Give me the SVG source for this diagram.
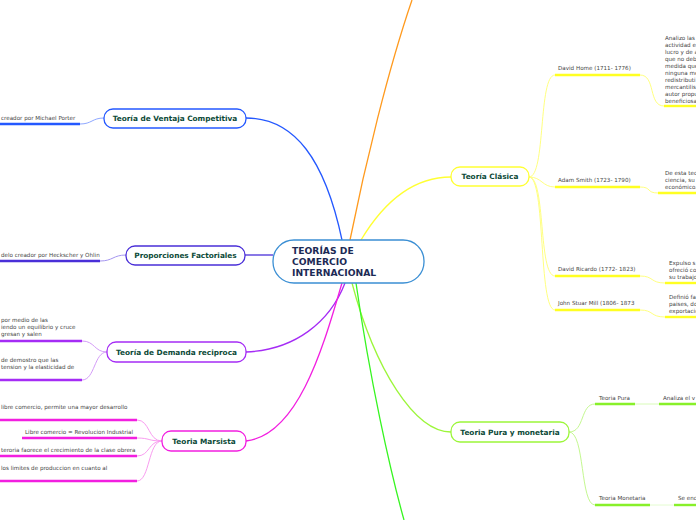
<svg xmlns="http://www.w3.org/2000/svg" width="696" height="520" viewBox="0 0 696 520">
<style>
.nt{font-family:"DejaVu Sans",Verdana,sans-serif;font-weight:bold;font-size:7.35px;fill:#0c4a38}
.ct{font-family:"DejaVu Sans",Verdana,sans-serif;font-weight:bold;font-size:9.2px;fill:#1c2a55}
.lt{font-family:"DejaVu Sans",Verdana,sans-serif;font-size:5.6px;fill:#444}
.c{fill:none;stroke-width:1.3}
.u{fill:none;stroke-width:2.4}
.s{fill:none;stroke-width:1}
.box{fill:#fff;stroke-width:1.3}
</style>
<rect width="696" height="520" fill="#fff"/>
<g id="connectors">
  <path class="c" stroke="#2458ff" d="M246,118 C295,118 325,160 342,240"/>
  <path class="c" stroke="#4a2fd8" d="M245,255 L273,255"/>
  <path class="c" stroke="#a52cf5" d="M246,352 C295,350 330,322 345,283"/>
  <path class="c" stroke="#f21fe0" d="M246,441 C300,435 325,340 342,283"/>
  <path class="c" stroke="#ff9a1e" d="M350,240 C365,165 388,70 412,0"/>
  <path class="c" stroke="#ffff33" d="M361,240 C385,200 415,177 451,177"/>
  <path class="c" stroke="#9cf63a" d="M352,283 C375,370 415,432 451,432"/>
  <path class="c" stroke="#36f520" d="M356,283 C370,380 390,470 404,520"/>
  <path class="s" stroke="#8fa8ff" d="M104,118 C92,118 92,124 80,124"/>
  <path class="u" stroke="#2458ff" d="M0,124 L80,124"/>
  <path class="s" stroke="#a596f0" d="M126,255 C113,255 113,261 100,261"/>
  <path class="u" stroke="#4a2fd8" d="M0,261 L100,261"/>
  <path class="s" stroke="#d49cf8" d="M107,352 C94,352 95,341 82,341"/>
  <path class="s" stroke="#d49cf8" d="M107,352 C94,352 95,380 82,380"/>
  <path class="u" stroke="#a52cf5" d="M0,341 L82,341"/>
  <path class="u" stroke="#a52cf5" d="M0,380 L82,380"/>
  <path class="s" stroke="#f99cf0" d="M162,441 C148,441 150,420 137,420"/>
  <path class="s" stroke="#f99cf0" d="M162,441 C148,441 150,438 137,438"/>
  <path class="s" stroke="#f99cf0" d="M162,441 C148,441 150,456 137,456"/>
  <path class="s" stroke="#f99cf0" d="M162,441 C148,441 150,481 137,481"/>
  <path class="u" stroke="#f21fe0" d="M0,420 L137,420"/>
  <path class="u" stroke="#f21fe0" d="M22,438 L137,438"/>
  <path class="u" stroke="#f21fe0" d="M0,456 L137,456"/>
  <path class="u" stroke="#f21fe0" d="M0,481 L137,481"/>
  <path class="s" stroke="#ffff80" d="M529,177 C546,177 538,75 555,75"/>
  <path class="s" stroke="#ffff80" d="M529,177 C542,177 542,187 555,187"/>
  <path class="s" stroke="#ffff80" d="M529,177 C546,177 538,276 555,276"/>
  <path class="s" stroke="#ffff80" d="M529,177 C546,177 538,310 555,310"/>
  <path class="u" stroke="#ffff22" d="M555,75 L640,75"/>
  <path class="u" stroke="#ffff22" d="M555,187 L640,187"/>
  <path class="u" stroke="#ffff22" d="M555,276 L640,276"/>
  <path class="u" stroke="#ffff22" d="M555,310 L640,310"/>
  <path class="s" stroke="#ffff80" d="M640,75 C656,75 648,106 664,106"/>
  <path class="s" stroke="#ffff80" d="M640,187 C652,187 646,193 658,193"/>
  <path class="s" stroke="#ffff80" d="M640,276 C654,276 650,283 665,283"/>
  <path class="s" stroke="#ffff80" d="M640,310 C654,310 650,317 665,317"/>
  <path class="u" stroke="#ffff22" d="M664,106 L696,106"/>
  <path class="u" stroke="#ffff22" d="M658,193 L696,193"/>
  <path class="u" stroke="#ffff22" d="M665,283 L696,283"/>
  <path class="u" stroke="#ffff22" d="M665,317 L696,317"/>
  <path class="s" stroke="#c4f890" d="M569,432 C585,432 580,404 595,404"/>
  <path class="s" stroke="#c4f890" d="M569,432 C585,432 580,505 595,505"/>
  <path class="u" stroke="#88f02a" d="M595,404 L635,404"/>
  <path class="s" stroke="#d8fbb8" stroke-width="1.6" d="M635,404 L659,404"/>
  <path class="u" stroke="#88f02a" d="M659,404 L696,404"/>
  <path class="u" stroke="#88f02a" d="M595,505 L650,505"/>
  <path class="s" stroke="#e4fcd0" stroke-width="2" d="M650,505 L674,505"/>
  <path class="u" stroke="#88f02a" d="M674,505 L696,505"/>
</g>
<g id="center">
  <rect class="box" x="273" y="240" width="151" height="43" rx="21" stroke="#3b8fd4"/>
  <text class="ct" x="292" y="254">TEORÍAS DE</text>
  <text class="ct" x="292" y="265">COMERCIO</text>
  <text class="ct" x="292" y="276">INTERNACIONAL</text>
</g>
<g id="ventaja">
  <rect class="box" x="104" y="109" width="142" height="19" rx="9" stroke="#2458ff"/>
  <text class="nt" x="175" y="121" text-anchor="middle">Teoría de Ventaja Competitiva</text>
  <text class="lt" x="1" y="120">creador por Michael Porter</text>
</g>
<g id="proporciones">
  <rect class="box" x="126" y="246" width="119" height="19" rx="9" stroke="#4a2fd8"/>
  <text class="nt" x="185.5" y="258" text-anchor="middle">Proporciones Factoriales</text>
  <text class="lt" x="1" y="257">delo creador por Heckscher y Ohlin</text>
</g>
<g id="demanda">
  <rect class="box" x="107" y="342" width="139" height="20" rx="9" stroke="#a52cf5"/>
  <text class="nt" x="176.5" y="355" text-anchor="middle">Teoría de Demanda reciproca</text>
  <text class="lt" x="1" y="322">por medio de las</text>
  <text class="lt" x="1" y="329">iendo un equilibrio y cruce</text>
  <text class="lt" x="1" y="336">gresan y salen</text>
  <text class="lt" x="1" y="362">de demostro que las</text>
  <text class="lt" x="1" y="369">tension y la elasticidad de</text>
</g>
<g id="marsista">
  <rect class="box" x="162" y="431" width="84" height="20" rx="9" stroke="#f21fe0"/>
  <text class="nt" x="204" y="444" text-anchor="middle">Teoria Marsista</text>
  <text class="lt" x="1" y="409">libre comercio, permite una mayor desarrollo</text>
  <text class="lt" x="25" y="434">Libre comercio = Revolucion Industrial</text>
  <text class="lt" x="1" y="452">teroria faorece el crecimiento de la clase obrera</text>
  <text class="lt" x="1" y="470">los limites de produccion en cuanto al</text>
</g>
<g id="clasica">
  <rect class="box" x="451" y="167" width="78" height="19" rx="9" stroke="#ffff33"/>
  <text class="nt" x="490" y="179" text-anchor="middle">Teoría Clásica</text>
</g>
<g id="hume">
  <text class="lt" x="558" y="70">David Home (1711- 1776)</text>
  <text class="lt" x="665" y="40">Analizo las</text>
  <text class="lt" x="665" y="47">actividad e</text>
  <text class="lt" x="665" y="54">lucro y de a</text>
  <text class="lt" x="665" y="61">que no deb</text>
  <text class="lt" x="665" y="68">medida que</text>
  <text class="lt" x="665" y="75">ninguna me</text>
  <text class="lt" x="665" y="82">redistributi</text>
  <text class="lt" x="665" y="89">mercantilis</text>
  <text class="lt" x="665" y="96">autor propu</text>
  <text class="lt" x="665" y="103">beneficiosa</text>
</g>
<g id="smith">
  <text class="lt" x="558" y="182">Adam Smith (1723- 1790)</text>
  <text class="lt" x="665" y="175">De esta tec</text>
  <text class="lt" x="665" y="182">ciencia, su</text>
  <text class="lt" x="665" y="189">económico.</text>
</g>
<g id="ricardo">
  <text class="lt" x="558" y="271">David Ricardo (1772- 1823)</text>
  <text class="lt" x="669" y="265">Expulso s</text>
  <text class="lt" x="669" y="272">ofreció co</text>
  <text class="lt" x="669" y="279">su trabajo</text>
</g>
<g id="mill">
  <text class="lt" x="558" y="305">John Stuar Mill (1806- 1873</text>
  <text class="lt" x="669" y="299">Definió fa</text>
  <text class="lt" x="669" y="306">paises, do</text>
  <text class="lt" x="669" y="313">exportacio</text>
</g>
<g id="pura">
  <rect class="box" x="451" y="422" width="118" height="20" rx="9" stroke="#9cf63a"/>
  <text class="nt" x="510" y="435" text-anchor="middle">Teoria Pura y monetaria</text>
  <text class="lt" x="599" y="400">Teoria Pura</text>
  <text class="lt" x="663" y="400">Analiza el v</text>
  <text class="lt" x="599" y="500">Teoria Monetaria</text>
  <text class="lt" x="678" y="500">Se enc</text>
</g>
</svg>
